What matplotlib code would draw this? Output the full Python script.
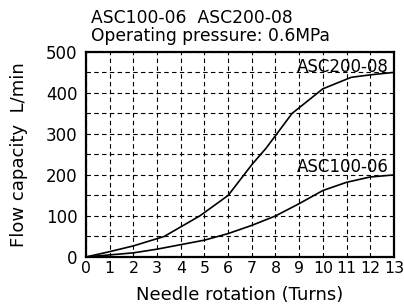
import matplotlib
matplotlib.use("Agg")
import matplotlib.pyplot as plt
import numpy as np

# data
turns_200 = [0, 1, 2, 3.3, 4.8, 6, 7, 7.6, 8.7, 10, 11.2, 12, 13]
flow_200 = [0, 13, 27, 50, 100, 150, 225, 265, 350, 410, 438, 444, 450]
turns_100 = [0, 1, 2, 3, 4, 5, 6, 7, 8, 9, 10, 11, 12, 13]
flow_100 = [0, 5, 10, 19, 30, 41, 57, 77, 100, 130, 162, 182, 195, 200]

x_ticks = list(range(0, 14))
y_ticks = [0, 100, 200, 300, 400, 500]

plt.rcParams['font.family'] = ['DejaVu Sans']

fig = plt.figure(figsize=(4.04, 3.07), dpi=100)
ax = fig.add_axes([0.213, 0.163, 0.762, 0.668])

ax.plot(turns_200, flow_200, color='black', linewidth=1.2)
ax.plot(turns_100, flow_100, color='black', linewidth=1.2)

ax.set_xlim(0, 13)
ax.set_ylim(0, 500)
ax.set_xticks(x_ticks)
ax.set_yticks(y_ticks)
ax.set_xticks(np.arange(0, 13, 1), minor=True)
ax.set_yticks(np.arange(0, 501, 50), minor=True)
ax.tick_params(which='both', length=0)
ax.tick_params(axis='y', pad=6, labelsize=12)
ax.tick_params(axis='x', pad=3, labelsize=11.3)
ax.grid(True, which='both', color='black', linestyle=(0, (4, 3)), linewidth=0.8)

for s in ax.spines.values():
    s.set_linewidth(1.6)

ax.text(12.8, 464, 'ASC200-08', ha='right', va='center', fontsize=12)
ax.text(12.8, 220, 'ASC100-06', ha='right', va='center', fontsize=12)

ax.set_xlabel('Needle rotation (Turns)', fontsize=13, labelpad=7)
ax.set_ylabel('Flow capacity  L/min', fontsize=13, labelpad=13)

fig.text(0.226, 0.926, 'ASC100-06  ASC200-08', fontsize=12.3, ha='left', va='baseline')
fig.text(0.226, 0.866, 'Operating pressure: 0.6MPa', fontsize=12.3, ha='left', va='baseline')

fig.savefig('out.png', dpi=100)
